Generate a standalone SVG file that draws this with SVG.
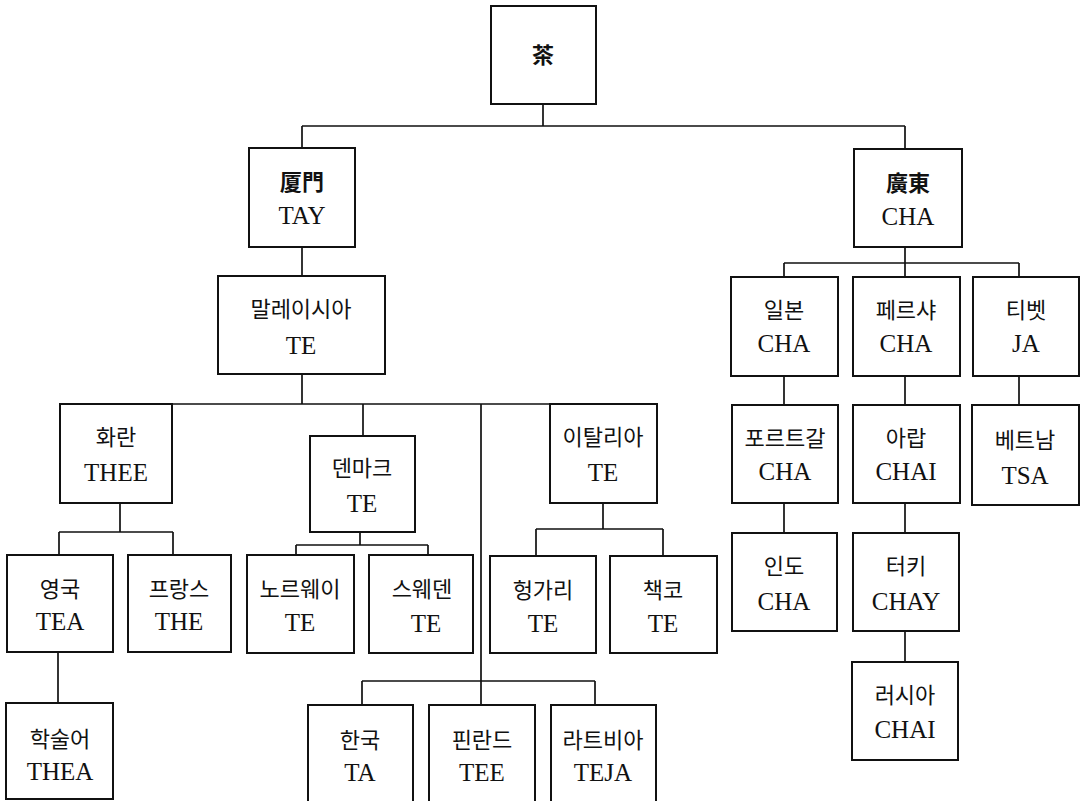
<svg xmlns="http://www.w3.org/2000/svg" width="1082" height="801" viewBox="0 0 1082 801">
<style>
.box{fill:#fff;stroke:#111;stroke-width:2}
.ko{font-family:"Noto Sans CJK KR","Noto Sans CJK SC",sans-serif;font-size:22px;fill:#111;text-anchor:middle}
.zh{font-family:"Noto Sans CJK TC","Noto Sans CJK JP",sans-serif;font-size:22px;font-weight:700;fill:#111;text-anchor:middle}
.la{font-family:"Liberation Serif","Times New Roman",serif;font-size:25px;fill:#111;text-anchor:middle}
.conn path{fill:none;stroke:#111;stroke-width:1.7}
</style>
<rect width="1082" height="801" fill="#fff"/>
<g class="conn" id="connectors">
<path d="M543,104V126M302,126H905M302,126V148M905,126V149"/>
<path d="M302,247V276"/>
<path d="M302,374V404M60,404H657"/>
<path d="M363,404V436"/>
<path d="M481,404V705M362,681H595M362,681V705M595,681V705"/>
<path d="M120,503V532M59,532H173M59,532V555M173,532V555"/>
<path d="M58,652V703"/>
<path d="M360,532V545M296,545H428M296,545V555M428,545V555"/>
<path d="M603,503V529M536,529H663M536,529V556M663,529V556"/>
<path d="M905,247V263M784,263H1019M784,263V277M905,263V277M1019,263V277"/>
<path d="M784,376V405M905,376V405M1019,376V405"/>
<path d="M784,503V533M905,503V533"/>
<path d="M905,631V662"/>
</g>
<g id="n-tea"><rect class="box" x="491" y="6" width="105" height="98"/><text class="zh" x="543" y="63">茶</text></g>
<g id="n-amoy"><rect class="box" x="249" y="148" width="106" height="99"/><text class="zh" x="302" y="190">厦門</text><text class="la" x="302" y="224">TAY</text></g>
<g id="n-canton"><rect class="box" x="854" y="149" width="108" height="98"/><text class="zh" x="908" y="191">廣東</text><text class="la" x="908" y="225">CHA</text></g>
<g id="n-malaysia"><rect class="box" x="218" y="276" width="167" height="98"/><text class="ko" x="301" y="317">말레이시아</text><text class="la" x="301" y="354">TE</text></g>
<g id="n-holland"><rect class="box" x="60" y="404" width="112" height="99"/><text class="ko" x="116" y="445">화란</text><text class="la" x="116" y="481">THEE</text></g>
<g id="n-denmark"><rect class="box" x="310" y="436" width="105" height="96"/><text class="ko" x="362" y="476">덴마크</text><text class="la" x="362" y="512">TE</text></g>
<g id="n-italy"><rect class="box" x="550" y="404" width="107" height="99"/><text class="ko" x="603" y="445">이탈리아</text><text class="la" x="603" y="481">TE</text></g>
<g id="n-england"><rect class="box" x="7" y="555" width="106" height="97"/><text class="ko" x="60" y="597">영국</text><text class="la" x="60" y="630">TEA</text></g>
<g id="n-france"><rect class="box" x="128" y="555" width="103" height="97"/><text class="ko" x="179" y="597">프랑스</text><text class="la" x="179" y="630">THE</text></g>
<g id="n-norway"><rect class="box" x="247" y="555" width="107" height="98"/><text class="ko" x="300" y="597">노르웨이</text><text class="la" x="300" y="631">TE</text></g>
<g id="n-sweden"><rect class="box" x="369" y="555" width="104" height="98"/><text class="ko" x="422" y="597">스웨덴</text><text class="la" x="426" y="632">TE</text></g>
<g id="n-hungary"><rect class="box" x="490" y="556" width="106" height="97"/><text class="ko" x="543" y="598">헝가리</text><text class="la" x="543" y="632">TE</text></g>
<g id="n-czech"><rect class="box" x="610" y="556" width="107" height="97"/><text class="ko" x="663" y="598">책코</text><text class="la" x="663" y="632">TE</text></g>
<g id="n-scholarly"><rect class="box" x="6" y="703" width="107" height="96"/><text class="ko" x="60" y="747">학술어</text><text class="la" x="60" y="780">THEA</text></g>
<g id="n-korea"><rect class="box" x="308" y="705" width="105" height="110"/><text class="ko" x="360" y="748">한국</text><text class="la" x="360" y="781">TA</text></g>
<g id="n-finland"><rect class="box" x="429" y="705" width="106" height="110"/><text class="ko" x="482" y="748">핀란드</text><text class="la" x="482" y="781">TEE</text></g>
<g id="n-latvia"><rect class="box" x="551" y="705" width="105" height="110"/><text class="ko" x="603" y="748">라트비아</text><text class="la" x="603" y="781">TEJA</text></g>
<g id="n-japan"><rect class="box" x="731" y="277" width="107" height="99"/><text class="ko" x="784" y="318">일본</text><text class="la" x="784" y="352">CHA</text></g>
<g id="n-persia"><rect class="box" x="853" y="277" width="107" height="99"/><text class="ko" x="906" y="318">페르샤</text><text class="la" x="906" y="352">CHA</text></g>
<g id="n-tibet"><rect class="box" x="973" y="277" width="106" height="99"/><text class="ko" x="1026" y="318">티벳</text><text class="la" x="1026" y="352">JA</text></g>
<g id="n-portugal"><rect class="box" x="732" y="405" width="106" height="98"/><text class="ko" x="785" y="446">포르트갈</text><text class="la" x="785" y="480">CHA</text></g>
<g id="n-arab"><rect class="box" x="853" y="405" width="107" height="98"/><text class="ko" x="906" y="446">아랍</text><text class="la" x="906" y="480">CHAI</text></g>
<g id="n-vietnam"><rect class="box" x="972" y="405" width="107" height="100"/><text class="ko" x="1025" y="448">베트남</text><text class="la" x="1025" y="484">TSA</text></g>
<g id="n-india"><rect class="box" x="732" y="533" width="105" height="98"/><text class="ko" x="784" y="574">인도</text><text class="la" x="784" y="610">CHA</text></g>
<g id="n-turkey"><rect class="box" x="853" y="533" width="106" height="98"/><text class="ko" x="906" y="574">터키</text><text class="la" x="906" y="610">CHAY</text></g>
<g id="n-russia"><rect class="box" x="852" y="662" width="106" height="98"/><text class="ko" x="905" y="703">러시아</text><text class="la" x="905" y="738">CHAI</text></g>
</svg>
